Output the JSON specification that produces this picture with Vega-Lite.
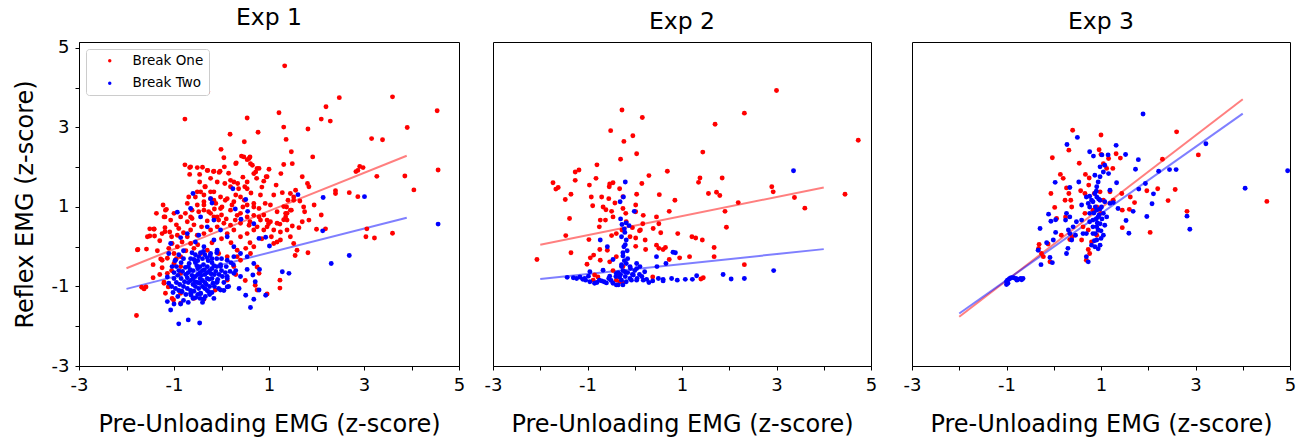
{
"$schema": "https://vega.github.io/schema/vega-lite/v6.json",
"padding": {"left": 12, "top": 5, "right": 5, "bottom": 0},
"background": "white",
"config": {
  "font": "DejaVu Sans",
  "view": {"stroke": "#000000", "strokeWidth": 1},
  "axis": {"grid": false, "domainColor": "#000000", "tickColor": "#000000", "labelColor": "#000000", "titleColor": "#000000", "labelFontSize": 18, "titleFontSize": 24, "titleFontWeight": "normal", "tickSize": 4, "labelPadding": 6, "domainWidth": 1, "tickWidth": 1, "labelFlush": false, "labelOverlap": false},
  "title": {"fontSize": 23.5, "fontWeight": "normal", "color": "#000000", "offset": 9}
},
"datasets": {
"lines": [
{"exp":1,"series":"Break One","x":-2,"y":-0.54},{"exp":1,"series":"Break One","x":3.9,"y":2.29},
{"exp":1,"series":"Break Two","x":-2,"y":-1.06},{"exp":1,"series":"Break Two","x":3.9,"y":0.73},
{"exp":2,"series":"Break One","x":-2,"y":0.05},{"exp":2,"series":"Break One","x":4,"y":1.49},
{"exp":2,"series":"Break Two","x":-2,"y":-0.81},{"exp":2,"series":"Break Two","x":4,"y":-0.06},
{"exp":3,"series":"Break One","x":-2,"y":-1.76},{"exp":3,"series":"Break One","x":4,"y":3.71},
{"exp":3,"series":"Break Two","x":-2,"y":-1.68},{"exp":3,"series":"Break Two","x":4,"y":3.35}
],
"points": [
{"exp":1,"series":"Break One","x":1.33,"y":4.55},{"exp":1,"series":"Break One","x":-0.29,"y":3.9},{"exp":1,"series":"Break One","x":-0.77,"y":3.21},{"exp":1,"series":"Break One","x":0.54,"y":3.24},{"exp":1,"series":"Break One","x":1.21,"y":3.37},{"exp":1,"series":"Break One","x":1.31,"y":3.01},{"exp":1,"series":"Break One","x":1.36,"y":2.7},{"exp":1,"series":"Break One","x":1.47,"y":2.39},{"exp":1,"series":"Break One","x":0.18,"y":2.83},{"exp":1,"series":"Break One","x":0.77,"y":2.88},{"exp":1,"series":"Break One","x":0.48,"y":2.64},{"exp":1,"series":"Break One","x":-0.01,"y":2.45},{"exp":1,"series":"Break One","x":2.2,"y":3.52},{"exp":1,"series":"Break One","x":2.48,"y":3.75},{"exp":1,"series":"Break One","x":2.1,"y":3.21},{"exp":1,"series":"Break One","x":2.29,"y":3.16},{"exp":1,"series":"Break One","x":1.82,"y":2.96},{"exp":1,"series":"Break One","x":1.92,"y":2.26},{"exp":1,"series":"Break One","x":3.6,"y":3.77},{"exp":1,"series":"Break One","x":4.54,"y":3.42},{"exp":1,"series":"Break One","x":3.91,"y":3.0},{"exp":1,"series":"Break One","x":3.16,"y":2.72},{"exp":1,"series":"Break One","x":3.39,"y":2.69},{"exp":1,"series":"Break One","x":4.56,"y":1.93},{"exp":1,"series":"Break One","x":3.86,"y":1.78},{"exp":1,"series":"Break One","x":4.05,"y":1.43},{"exp":1,"series":"Break One","x":3.27,"y":1.77},{"exp":1,"series":"Break One","x":2.83,"y":1.89},{"exp":1,"series":"Break One","x":2.91,"y":2.02},{"exp":1,"series":"Break One","x":2.98,"y":1.99},{"exp":1,"series":"Break One","x":2.87,"y":1.92},{"exp":1,"series":"Break One","x":2.69,"y":1.36},{"exp":1,"series":"Break One","x":2.4,"y":1.41},{"exp":1,"series":"Break One","x":2.4,"y":1.34},{"exp":1,"series":"Break One","x":2.87,"y":1.26},{"exp":1,"series":"Break One","x":3.06,"y":0.45},{"exp":1,"series":"Break One","x":3.04,"y":0.25},{"exp":1,"series":"Break One","x":3.22,"y":0.22},{"exp":1,"series":"Break One","x":3.6,"y":0.34},{"exp":1,"series":"Break One","x":2.19,"y":0.45},{"exp":1,"series":"Break One","x":1.55,"y":-0.22},{"exp":1,"series":"Break One","x":1.82,"y":-0.15},{"exp":1,"series":"Break One","x":1.23,"y":-0.84},{"exp":1,"series":"Break One","x":1.23,"y":-1.04},{"exp":1,"series":"Break One","x":0.96,"y":-1.19},{"exp":1,"series":"Break One","x":-1.79,"y":-1.73},{"exp":1,"series":"Break One","x":-1.77,"y":-0.08},{"exp":1,"series":"Break One","x":-1.58,"y":-0.06},{"exp":1,"series":"Break One","x":-1.51,"y":0.27},{"exp":1,"series":"Break One","x":-1.51,"y":0.45},{"exp":1,"series":"Break One","x":-1.42,"y":0.45},{"exp":1,"series":"Break One","x":-1.37,"y":0.84},{"exp":1,"series":"Break One","x":-1.23,"y":1.05},{"exp":1,"series":"Break One","x":-1.16,"y":0.94},{"exp":1,"series":"Break One","x":-1.19,"y":0.75},{"exp":1,"series":"Break One","x":-1.19,"y":0.48},{"exp":1,"series":"Break One","x":-1.19,"y":0.38},{"exp":1,"series":"Break One","x":-1.44,"y":-0.45},{"exp":1,"series":"Break One","x":-1.44,"y":-0.78},{"exp":1,"series":"Break One","x":-1.25,"y":-0.53},{"exp":1,"series":"Break One","x":-1.28,"y":-0.31},{"exp":1,"series":"Break One","x":-1.68,"y":-1.02},{"exp":1,"series":"Break One","x":-1.63,"y":-1.06},{"exp":1,"series":"Break One","x":-1.59,"y":-1.01},
{"exp":1,"series":"Break One","x":-0.77,"y":2.06},{"exp":1,"series":"Break One","x":-0.67,"y":1.99},{"exp":1,"series":"Break One","x":-0.51,"y":1.99},{"exp":1,"series":"Break One","x":-0.46,"y":1.82},{"exp":1,"series":"Break One","x":-0.67,"y":1.82},{"exp":1,"series":"Break One","x":-0.3,"y":1.92},{"exp":1,"series":"Break One","x":-0.17,"y":1.89},{"exp":1,"series":"Break One","x":-0.05,"y":1.87},{"exp":1,"series":"Break One","x":0.05,"y":2.24},{"exp":1,"series":"Break One","x":0.31,"y":2.11},{"exp":1,"series":"Break One","x":0.42,"y":2.28},{"exp":1,"series":"Break One","x":0.6,"y":2.26},{"exp":1,"series":"Break One","x":0.61,"y":2.09},{"exp":1,"series":"Break One","x":0.54,"y":2.19},{"exp":1,"series":"Break One","x":0.79,"y":1.97},{"exp":1,"series":"Break One","x":0.96,"y":1.76},{"exp":1,"series":"Break One","x":0.89,"y":1.65},{"exp":1,"series":"Break One","x":0.74,"y":1.72},{"exp":1,"series":"Break One","x":0.49,"y":1.51},{"exp":1,"series":"Break One","x":0.54,"y":1.46},{"exp":1,"series":"Break One","x":0.36,"y":1.46},{"exp":1,"series":"Break One","x":0.26,"y":1.63},{"exp":1,"series":"Break One","x":0.19,"y":1.67},{"exp":1,"series":"Break One","x":0.68,"y":1.84},{"exp":1,"series":"Break One","x":0.82,"y":1.3},{"exp":1,"series":"Break One","x":0.92,"y":1.09},{"exp":1,"series":"Break One","x":0.68,"y":1.0},{"exp":1,"series":"Break One","x":0.79,"y":0.75},{"exp":1,"series":"Break One","x":0.6,"y":0.63},{"exp":1,"series":"Break One","x":0.4,"y":0.84},{"exp":1,"series":"Break One","x":0.29,"y":0.67},{"exp":1,"series":"Break One","x":0.19,"y":0.92},{"exp":1,"series":"Break One","x":0.08,"y":1.17},{"exp":1,"series":"Break One","x":0.01,"y":1.0},{"exp":1,"series":"Break One","x":-0.16,"y":1.17},{"exp":1,"series":"Break One","x":-0.23,"y":1.38},{"exp":1,"series":"Break One","x":-0.34,"y":1.51},{"exp":1,"series":"Break One","x":-0.44,"y":1.38},{"exp":1,"series":"Break One","x":-0.55,"y":1.25},{"exp":1,"series":"Break One","x":-0.69,"y":1.25},{"exp":1,"series":"Break One","x":-0.72,"y":1.09},{"exp":1,"series":"Break One","x":-0.76,"y":0.84},{"exp":1,"series":"Break One","x":-0.62,"y":0.71},{"exp":1,"series":"Break One","x":-0.48,"y":0.88},{"exp":1,"series":"Break One","x":-0.37,"y":1.05},{"exp":1,"series":"Break One","x":-0.27,"y":0.88},{"exp":1,"series":"Break One","x":-0.16,"y":0.75},{"exp":1,"series":"Break One","x":-0.06,"y":0.67},{"exp":1,"series":"Break One","x":-0.09,"y":0.5},{"exp":1,"series":"Break One","x":-0.23,"y":0.42},{"exp":1,"series":"Break One","x":-0.37,"y":0.33},{"exp":1,"series":"Break One","x":-0.51,"y":0.29},{"exp":1,"series":"Break One","x":-0.65,"y":0.42},{"exp":1,"series":"Break One","x":-0.72,"y":0.25},{"exp":1,"series":"Break One","x":-0.83,"y":0.12},{"exp":1,"series":"Break One","x":-0.93,"y":0.0},{"exp":1,"series":"Break One","x":-1.04,"y":0.08},{"exp":1,"series":"Break One","x":-1.11,"y":-0.04},{"exp":1,"series":"Break One","x":-1.0,"y":-0.17},{"exp":1,"series":"Break One","x":-0.86,"y":-0.25},{"exp":1,"series":"Break One","x":0.12,"y":0.33},{"exp":1,"series":"Break One","x":0.26,"y":0.42},{"exp":1,"series":"Break One","x":0.4,"y":0.25},{"exp":1,"series":"Break One","x":0.54,"y":0.33},{"exp":1,"series":"Break One","x":0.68,"y":0.42},{"exp":1,"series":"Break One","x":0.89,"y":0.42},{"exp":1,"series":"Break One","x":0.99,"y":0.58},{"exp":1,"series":"Break One","x":1.1,"y":0.08},{"exp":1,"series":"Break One","x":1.17,"y":0.12},{"exp":1,"series":"Break One","x":1.24,"y":0.17},{"exp":1,"series":"Break One","x":1.23,"y":0.57},{"exp":1,"series":"Break One","x":1.38,"y":0.67},{"exp":1,"series":"Break One","x":1.35,"y":0.84},{"exp":1,"series":"Break One","x":1.4,"y":1.17},{"exp":1,"series":"Break One","x":1.45,"y":1.34},{"exp":1,"series":"Break One","x":1.56,"y":1.42},{"exp":1,"series":"Break One","x":1.52,"y":1.25},{"exp":1,"series":"Break One","x":1.37,"y":1.0},{"exp":1,"series":"Break One","x":1.28,"y":1.36},{"exp":1,"series":"Break One","x":1.25,"y":1.84},{"exp":1,"series":"Break One","x":1.31,"y":2.07},{"exp":1,"series":"Break One","x":1.49,"y":2.09},{"exp":1,"series":"Break One","x":1.7,"y":1.76},{"exp":1,"series":"Break One","x":1.81,"y":1.59},{"exp":1,"series":"Break One","x":1.84,"y":1.51},{"exp":1,"series":"Break One","x":1.73,"y":1.0},{"exp":1,"series":"Break One","x":1.75,"y":0.88},{"exp":1,"series":"Break One","x":1.84,"y":0.67},{"exp":1,"series":"Break One","x":1.7,"y":0.63},{"exp":1,"series":"Break One","x":1.63,"y":0.48},{"exp":1,"series":"Break One","x":1.49,"y":0.52},{"exp":1,"series":"Break One","x":1.47,"y":0.92},{"exp":1,"series":"Break One","x":2.0,"y":0.44},
{"exp":1,"series":"Break One","x":-1.14,"y":-0.29},{"exp":1,"series":"Break One","x":-1.0,"y":-0.42},{"exp":1,"series":"Break One","x":-0.86,"y":-0.5},{"exp":1,"series":"Break One","x":-1.14,"y":-0.67},{"exp":1,"series":"Break One","x":-1.21,"y":-0.92},{"exp":1,"series":"Break One","x":-1.18,"y":-1.17},{"exp":1,"series":"Break One","x":-1.04,"y":-1.3},{"exp":1,"series":"Break One","x":-0.86,"y":-1.17},{"exp":1,"series":"Break One","x":-0.58,"y":-1.3},{"exp":1,"series":"Break One","x":-0.37,"y":-1.32},{"exp":1,"series":"Break One","x":-0.13,"y":-1.09},{"exp":1,"series":"Break One","x":0.12,"y":-0.84},{"exp":1,"series":"Break One","x":0.26,"y":-0.5},{"exp":1,"series":"Break One","x":0.4,"y":-0.34},{"exp":1,"series":"Break One","x":0.61,"y":-0.17},{"exp":1,"series":"Break One","x":0.68,"y":0.0},{"exp":1,"series":"Break One","x":0.51,"y":-0.04},{"exp":1,"series":"Break One","x":0.33,"y":-0.09},{"exp":1,"series":"Break One","x":0.12,"y":-0.25},{"exp":1,"series":"Break One","x":-0.06,"y":-0.17},{"exp":1,"series":"Break One","x":-0.3,"y":-0.09},{"exp":1,"series":"Break One","x":-0.44,"y":-0.17},{"exp":1,"series":"Break One","x":-0.58,"y":-0.04},{"exp":1,"series":"Break One","x":-0.65,"y":0.08},{"exp":1,"series":"Break One","x":-0.86,"y":-0.67},{"exp":1,"series":"Break One","x":0.71,"y":-0.97},{"exp":1,"series":"Break One","x":0.75,"y":-1.09},
{"exp":1,"series":"Break One","x":-0.65,"y":2.01},{"exp":1,"series":"Break One","x":-0.29,"y":1.92},{"exp":1,"series":"Break One","x":-0.16,"y":1.9},{"exp":1,"series":"Break One","x":-0.03,"y":1.9},{"exp":1,"series":"Break One","x":0.06,"y":2.01},{"exp":1,"series":"Break One","x":0.3,"y":2.09},{"exp":1,"series":"Break One","x":0.47,"y":2.26},{"exp":1,"series":"Break One","x":0.58,"y":2.22},{"exp":1,"series":"Break One","x":0.65,"y":2.05},{"exp":1,"series":"Break One","x":0.75,"y":1.97},{"exp":1,"series":"Break One","x":0.72,"y":1.88},{"exp":1,"series":"Break One","x":0.94,"y":1.76},{"exp":1,"series":"Break One","x":0.54,"y":1.63},{"exp":1,"series":"Break One","x":0.34,"y":1.59},{"exp":1,"series":"Break One","x":0.19,"y":1.51},{"exp":1,"series":"Break One","x":0.07,"y":1.59},{"exp":1,"series":"Break One","x":-0.09,"y":1.63},{"exp":1,"series":"Break One","x":-0.23,"y":1.72},{"exp":1,"series":"Break One","x":-0.46,"y":1.63},{"exp":1,"series":"Break One","x":-0.35,"y":1.51},{"exp":1,"series":"Break One","x":-0.51,"y":1.38},{"exp":1,"series":"Break One","x":-0.37,"y":1.3},{"exp":1,"series":"Break One","x":-0.16,"y":1.38},{"exp":1,"series":"Break One","x":-0.02,"y":1.25},{"exp":1,"series":"Break One","x":0.12,"y":1.21},{"exp":1,"series":"Break One","x":0.26,"y":1.13},{"exp":1,"series":"Break One","x":0.4,"y":1.25},{"exp":1,"series":"Break One","x":0.48,"y":1.17},{"exp":1,"series":"Break One","x":0.54,"y":1.05},{"exp":1,"series":"Break One","x":0.68,"y":1.09},{"exp":1,"series":"Break One","x":0.79,"y":0.96},{"exp":1,"series":"Break One","x":1.03,"y":1.05},{"exp":1,"series":"Break One","x":0.89,"y":0.8},{"exp":1,"series":"Break One","x":1.03,"y":0.63},{"exp":1,"series":"Break One","x":1.17,"y":0.59},{"exp":1,"series":"Break One","x":1.31,"y":0.68},{"exp":1,"series":"Break One","x":1.38,"y":0.84},{"exp":1,"series":"Break One","x":1.45,"y":0.92},{"exp":1,"series":"Break One","x":1.52,"y":1.17},{"exp":1,"series":"Break One","x":1.31,"y":1.01},{"exp":1,"series":"Break One","x":1.17,"y":0.88},{"exp":1,"series":"Break One","x":-1.18,"y":0.92},{"exp":1,"series":"Break One","x":-1.21,"y":0.75},{"exp":1,"series":"Break One","x":-1.07,"y":0.67},{"exp":1,"series":"Break One","x":-0.9,"y":0.46},{"exp":1,"series":"Break One","x":-0.72,"y":0.63},{"exp":1,"series":"Break One","x":-0.65,"y":0.75},{"exp":1,"series":"Break One","x":-0.86,"y":0.75},{"exp":1,"series":"Break One","x":-1.0,"y":0.84},{"exp":1,"series":"Break One","x":-1.42,"y":0.44},{"exp":1,"series":"Break One","x":-1.56,"y":0.25},{"exp":1,"series":"Break One","x":-1.76,"y":-0.07},{"exp":1,"series":"Break One","x":-1.41,"y":0.27},{"exp":1,"series":"Break One","x":-1.25,"y":0.33},{"exp":1,"series":"Break One","x":-1.09,"y":0.37},{"exp":1,"series":"Break One","x":-0.93,"y":0.29},{"exp":1,"series":"Break One","x":-0.51,"y":1.05},{"exp":1,"series":"Break One","x":-0.37,"y":1.13},{"exp":1,"series":"Break One","x":-0.23,"y":1.21},{"exp":1,"series":"Break One","x":-0.12,"y":1.09},{"exp":1,"series":"Break One","x":-0.02,"y":0.96},{"exp":1,"series":"Break One","x":0.33,"y":0.79},{"exp":1,"series":"Break One","x":0.54,"y":0.75},{"exp":1,"series":"Break One","x":0.68,"y":0.79},{"exp":1,"series":"Break One","x":0.82,"y":0.67},{"exp":1,"series":"Break One","x":0.96,"y":0.67},{"exp":1,"series":"Break One","x":1.35,"y":0.75},{"exp":1,"series":"Break One","x":1.38,"y":0.42},{"exp":1,"series":"Break One","x":1.45,"y":0.25},{"exp":1,"series":"Break One","x":1.52,"y":0.08},{"exp":1,"series":"Break One","x":1.59,"y":-0.09},{"exp":1,"series":"Break One","x":1.24,"y":0.37},{"exp":1,"series":"Break One","x":1.1,"y":0.42},{"exp":1,"series":"Break One","x":0.96,"y":0.5},{"exp":1,"series":"Break One","x":0.75,"y":0.5},{"exp":1,"series":"Break One","x":0.58,"y":0.54},{"exp":1,"series":"Break One","x":0.4,"y":0.59},{"exp":1,"series":"Break One","x":0.19,"y":0.54},{"exp":1,"series":"Break One","x":0.05,"y":0.59},{"exp":1,"series":"Break One","x":-0.09,"y":0.75},{"exp":1,"series":"Break One","x":-0.23,"y":0.84},{"exp":1,"series":"Break One","x":-0.37,"y":0.92},{"exp":1,"series":"Break One","x":-0.62,"y":0.92},{"exp":1,"series":"Break One","x":-1.25,"y":-0.34},{"exp":1,"series":"Break One","x":-1.21,"y":-0.89},{"exp":1,"series":"Break One","x":-1.12,"y":-1.01},{"exp":1,"series":"Break One","x":-1.01,"y":-1.34},{"exp":1,"series":"Break One","x":-0.86,"y":-1.42},{"exp":1,"series":"Break One","x":0.33,"y":-0.25},{"exp":1,"series":"Break One","x":0.75,"y":-0.51},{"exp":1,"series":"Break One","x":0.79,"y":-0.67},
{"exp":1,"series":"Break One","x":-0.95,"y":0.55},{"exp":1,"series":"Break One","x":-0.8,"y":0.35},{"exp":1,"series":"Break One","x":-0.58,"y":0.55},{"exp":1,"series":"Break One","x":-0.42,"y":0.5},{"exp":1,"series":"Break One","x":-0.3,"y":0.65},{"exp":1,"series":"Break One","x":-0.15,"y":0.95},{"exp":1,"series":"Break One","x":0.0,"y":0.8},{"exp":1,"series":"Break One","x":0.1,"y":0.7},{"exp":1,"series":"Break One","x":0.22,"y":1.05},{"exp":1,"series":"Break One","x":0.3,"y":1.3},{"exp":1,"series":"Break One","x":0.45,"y":1.0},{"exp":1,"series":"Break One","x":0.62,"y":1.35},{"exp":1,"series":"Break One","x":0.85,"y":1.5},{"exp":1,"series":"Break One","x":1.1,"y":1.3},{"exp":1,"series":"Break One","x":1.05,"y":0.25},{"exp":1,"series":"Break One","x":0.85,"y":0.2},{"exp":1,"series":"Break One","x":0.6,"y":0.1},{"exp":1,"series":"Break One","x":0.2,"y":0.1},{"exp":1,"series":"Break One","x":0.0,"y":0.2},{"exp":1,"series":"Break One","x":-0.2,"y":0.1},{"exp":1,"series":"Break One","x":-0.5,"y":0.05},{"exp":1,"series":"Break One","x":-0.75,"y":-0.1},{"exp":1,"series":"Break One","x":-0.95,"y":-0.3},{"exp":1,"series":"Break One","x":-1.05,"y":-0.6},{"exp":1,"series":"Break One","x":-1.3,"y":-0.7},{"exp":1,"series":"Break One","x":-1.35,"y":-0.1},{"exp":1,"series":"Break One","x":-1.3,"y":0.15},{"exp":1,"series":"Break One","x":-1.05,"y":0.25},{"exp":1,"series":"Break One","x":0.45,"y":1.75},{"exp":1,"series":"Break One","x":0.15,"y":1.85},{"exp":1,"series":"Break One","x":-0.4,"y":2.0},{"exp":1,"series":"Break One","x":1.0,"y":1.95},{"exp":1,"series":"Break One","x":1.15,"y":1.55},{"exp":1,"series":"Break One","x":1.65,"y":1.15},{"exp":1,"series":"Break One","x":1.95,"y":1.05},{"exp":1,"series":"Break One","x":2.1,"y":0.8},{"exp":1,"series":"Break One","x":0.3,"y":-0.7},{"exp":1,"series":"Break One","x":0.5,"y":-0.85},
{"exp":1,"series":"Break Two","x":-0.9,"y":-1.94},{"exp":1,"series":"Break Two","x":-0.7,"y":-1.84},{"exp":1,"series":"Break Two","x":-0.46,"y":-1.92},{"exp":1,"series":"Break Two","x":-1.07,"y":-1.59},{"exp":1,"series":"Break Two","x":-1.14,"y":-1.38},{"exp":1,"series":"Break Two","x":-0.86,"y":-1.44},{"exp":1,"series":"Break Two","x":-1.0,"y":-1.44},{"exp":1,"series":"Break Two","x":0.61,"y":-1.53},{"exp":1,"series":"Break Two","x":0.68,"y":-1.32},{"exp":1,"series":"Break Two","x":0.93,"y":-1.22},{"exp":1,"series":"Break Two","x":0.51,"y":-1.22},{"exp":1,"series":"Break Two","x":0.79,"y":-1.09},{"exp":1,"series":"Break Two","x":0.71,"y":-0.88},{"exp":1,"series":"Break Two","x":0.66,"y":-0.71},{"exp":1,"series":"Break Two","x":0.8,"y":-0.57},{"exp":1,"series":"Break Two","x":0.68,"y":-0.42},{"exp":1,"series":"Break Two","x":0.54,"y":-0.57},{"exp":1,"series":"Break Two","x":0.37,"y":-1.05},{"exp":1,"series":"Break Two","x":0.12,"y":-1.01},{"exp":1,"series":"Break Two","x":-0.16,"y":-1.3},{"exp":1,"series":"Break Two","x":-0.38,"y":-1.32},{"exp":1,"series":"Break Two","x":1.28,"y":-0.63},{"exp":1,"series":"Break Two","x":1.42,"y":-0.67},{"exp":1,"series":"Break Two","x":2.31,"y":-0.42},{"exp":1,"series":"Break Two","x":2.69,"y":-0.22},{"exp":1,"series":"Break Two","x":2.13,"y":0.4},{"exp":1,"series":"Break Two","x":2.14,"y":1.24},{"exp":1,"series":"Break Two","x":3.01,"y":1.26},{"exp":1,"series":"Break Two","x":1.61,"y":1.31},{"exp":1,"series":"Break Two","x":4.56,"y":0.57},{"exp":1,"series":"Break Two","x":0.93,"y":0.24},{"exp":1,"series":"Break Two","x":1.01,"y":0.02},{"exp":1,"series":"Break Two","x":0.79,"y":0.21},{"exp":1,"series":"Break Two","x":0.68,"y":0.58},{"exp":1,"series":"Break Two","x":0.55,"y":0.89},{"exp":1,"series":"Break Two","x":0.51,"y":1.19},{"exp":1,"series":"Break Two","x":0.41,"y":0.69},{"exp":1,"series":"Break Two","x":0.29,"y":0.95},{"exp":1,"series":"Break Two","x":0.24,"y":1.46},{"exp":1,"series":"Break Two","x":-0.23,"y":1.21},{"exp":1,"series":"Break Two","x":-0.2,"y":1.1},{"exp":1,"series":"Break Two","x":-0.6,"y":1.34},{"exp":1,"series":"Break Two","x":-0.65,"y":0.96},{"exp":1,"series":"Break Two","x":-0.93,"y":0.87},{"exp":1,"series":"Break Two","x":-0.44,"y":0.75},{"exp":1,"series":"Break Two","x":-0.3,"y":0.5},{"exp":1,"series":"Break Two","x":-0.16,"y":0.67},{"exp":1,"series":"Break Two","x":-0.02,"y":0.42},{"exp":1,"series":"Break Two","x":0.12,"y":0.25},{"exp":1,"series":"Break Two","x":0.26,"y":0.0},{"exp":1,"series":"Break Two","x":0.4,"y":-0.17},{"exp":1,"series":"Break Two","x":0.54,"y":-0.25},{"exp":1,"series":"Break Two","x":0.26,"y":-0.25},{"exp":1,"series":"Break Two","x":0.12,"y":-0.34},{"exp":1,"series":"Break Two","x":-0.02,"y":-0.5},{"exp":1,"series":"Break Two","x":0.26,"y":-0.67},{"exp":1,"series":"Break Two","x":0.4,"y":-0.75},{"exp":1,"series":"Break Two","x":0.12,"y":-0.75},{"exp":1,"series":"Break Two","x":-0.09,"y":-0.88},{"exp":1,"series":"Break Two","x":-0.02,"y":-1.09},{"exp":1,"series":"Break Two","x":-0.27,"y":-1.13},{"exp":1,"series":"Break Two","x":-0.44,"y":-1.17},{"exp":1,"series":"Break Two","x":-0.65,"y":-1.17},{"exp":1,"series":"Break Two","x":-0.83,"y":-1.13},{"exp":1,"series":"Break Two","x":-0.97,"y":-1.05},{"exp":1,"series":"Break Two","x":-1.11,"y":-0.92},{"exp":1,"series":"Break Two","x":-1.14,"y":-0.76},{"exp":1,"series":"Break Two","x":-1.04,"y":-0.5},{"exp":1,"series":"Break Two","x":-0.97,"y":-0.34},{"exp":1,"series":"Break Two","x":-1.11,"y":-0.17},{"exp":1,"series":"Break Two","x":-1.07,"y":0.08},{"exp":1,"series":"Break Two","x":-0.86,"y":0.23},{"exp":1,"series":"Break Two","x":-0.72,"y":0.33},{"exp":1,"series":"Break Two","x":-0.48,"y":0.29},{"exp":1,"series":"Break Two","x":-0.55,"y":0.12},{"exp":1,"series":"Break Two","x":-0.37,"y":0.0},{"exp":1,"series":"Break Two","x":-0.23,"y":-0.17},{"exp":1,"series":"Break Two","x":-0.16,"y":0.17},{"exp":1,"series":"Break Two","x":-0.09,"y":-0.09},
{"exp":1,"series":"Break Two","x":-0.9,"y":-0.6},{"exp":1,"series":"Break Two","x":-0.85,"y":-0.8},{"exp":1,"series":"Break Two","x":-0.8,"y":-1.0},{"exp":1,"series":"Break Two","x":-0.75,"y":-0.7},{"exp":1,"series":"Break Two","x":-0.7,"y":-0.9},{"exp":1,"series":"Break Two","x":-0.7,"y":-0.5},{"exp":1,"series":"Break Two","x":-0.65,"y":-1.1},{"exp":1,"series":"Break Two","x":-0.6,"y":-0.8},{"exp":1,"series":"Break Two","x":-0.6,"y":-0.6},{"exp":1,"series":"Break Two","x":-0.55,"y":-1.0},{"exp":1,"series":"Break Two","x":-0.55,"y":-0.4},{"exp":1,"series":"Break Two","x":-0.5,"y":-0.7},{"exp":1,"series":"Break Two","x":-0.5,"y":-0.9},{"exp":1,"series":"Break Two","x":-0.5,"y":-1.2},{"exp":1,"series":"Break Two","x":-0.45,"y":-0.5},{"exp":1,"series":"Break Two","x":-0.45,"y":-0.8},{"exp":1,"series":"Break Two","x":-0.4,"y":-1.0},{"exp":1,"series":"Break Two","x":-0.4,"y":-0.6},{"exp":1,"series":"Break Two","x":-0.4,"y":-0.3},{"exp":1,"series":"Break Two","x":-0.35,"y":-0.9},{"exp":1,"series":"Break Two","x":-0.35,"y":-0.7},{"exp":1,"series":"Break Two","x":-0.3,"y":-1.1},{"exp":1,"series":"Break Two","x":-0.3,"y":-0.5},{"exp":1,"series":"Break Two","x":-0.3,"y":-0.8},{"exp":1,"series":"Break Two","x":-0.25,"y":-0.6},{"exp":1,"series":"Break Two","x":-0.25,"y":-1.0},{"exp":1,"series":"Break Two","x":-0.2,"y":-0.4},{"exp":1,"series":"Break Two","x":-0.2,"y":-0.8},{"exp":1,"series":"Break Two","x":-0.15,"y":-0.7},{"exp":1,"series":"Break Two","x":-0.15,"y":-1.0},{"exp":1,"series":"Break Two","x":-0.1,"y":-0.5},{"exp":1,"series":"Break Two","x":-0.1,"y":-0.9},{"exp":1,"series":"Break Two","x":-0.05,"y":-0.7},{"exp":1,"series":"Break Two","x":0.0,"y":-0.6},{"exp":1,"series":"Break Two","x":0.05,"y":-0.9},{"exp":1,"series":"Break Two","x":0.1,"y":-0.5},{"exp":1,"series":"Break Two","x":-0.95,"y":-0.9},{"exp":1,"series":"Break Two","x":-0.9,"y":-1.1},{"exp":1,"series":"Break Two","x":-0.85,"y":-0.4},{"exp":1,"series":"Break Two","x":-0.8,"y":-0.3},{"exp":1,"series":"Break Two","x":-0.75,"y":-1.2},{"exp":1,"series":"Break Two","x":-0.65,"y":-0.3},{"exp":1,"series":"Break Two","x":-0.6,"y":-1.3},{"exp":1,"series":"Break Two","x":-0.55,"y":-0.2},{"exp":1,"series":"Break Two","x":-0.45,"y":-1.3},{"exp":1,"series":"Break Two","x":-0.35,"y":-0.2},{"exp":1,"series":"Break Two","x":-0.25,"y":-1.2},{"exp":1,"series":"Break Two","x":-0.5,"y":-0.55},{"exp":1,"series":"Break Two","x":-0.45,"y":-0.65},{"exp":1,"series":"Break Two","x":-0.55,"y":-0.75},{"exp":1,"series":"Break Two","x":-0.4,"y":-0.85},{"exp":1,"series":"Break Two","x":-0.6,"y":-0.95},{"exp":1,"series":"Break Two","x":-0.3,"y":-0.65},{"exp":1,"series":"Break Two","x":-0.5,"y":-0.35},{"exp":1,"series":"Break Two","x":-0.7,"y":-0.65},{"exp":1,"series":"Break Two","x":-0.65,"y":-0.85},{"exp":1,"series":"Break Two","x":-0.35,"y":-1.05},{"exp":1,"series":"Break Two","x":-0.2,"y":-0.55},{"exp":1,"series":"Break Two","x":-0.1,"y":-0.3},{"exp":1,"series":"Break Two","x":0.2,"y":-0.4},{"exp":1,"series":"Break Two","x":0.3,"y":-0.6},{"exp":1,"series":"Break Two","x":0.15,"y":-1.0},{"exp":1,"series":"Break Two","x":-1.0,"y":-0.8},{"exp":1,"series":"Break Two","x":-1.05,"y":-1.0},{"exp":1,"series":"Break Two","x":-0.95,"y":-0.5},
{"exp":1,"series":"Break Two","x":-0.92,"y":-0.72},{"exp":1,"series":"Break Two","x":-0.88,"y":-0.95},{"exp":1,"series":"Break Two","x":-0.82,"y":-0.62},{"exp":1,"series":"Break Two","x":-0.78,"y":-0.88},{"exp":1,"series":"Break Two","x":-0.72,"y":-1.05},{"exp":1,"series":"Break Two","x":-0.68,"y":-0.42},{"exp":1,"series":"Break Two","x":-0.62,"y":-0.72},{"exp":1,"series":"Break Two","x":-0.58,"y":-1.12},{"exp":1,"series":"Break Two","x":-0.52,"y":-0.48},{"exp":1,"series":"Break Two","x":-0.48,"y":-1.05},{"exp":1,"series":"Break Two","x":-0.42,"y":-0.72},{"exp":1,"series":"Break Two","x":-0.38,"y":-0.45},{"exp":1,"series":"Break Two","x":-0.32,"y":-0.95},{"exp":1,"series":"Break Two","x":-0.28,"y":-0.35},{"exp":1,"series":"Break Two","x":-0.22,"y":-0.68},{"exp":1,"series":"Break Two","x":-0.18,"y":-0.92},{"exp":1,"series":"Break Two","x":-0.12,"y":-0.62},{"exp":1,"series":"Break Two","x":-0.08,"y":-0.82},{"exp":1,"series":"Break Two","x":-0.02,"y":-0.45},{"exp":1,"series":"Break Two","x":0.02,"y":-0.75},{"exp":1,"series":"Break Two","x":0.08,"y":-0.65},{"exp":1,"series":"Break Two","x":-0.72,"y":-0.78},{"exp":1,"series":"Break Two","x":-0.66,"y":-0.58},{"exp":1,"series":"Break Two","x":-0.56,"y":-0.88},{"exp":1,"series":"Break Two","x":-0.46,"y":-0.92},{"exp":1,"series":"Break Two","x":-0.36,"y":-0.58},{"exp":1,"series":"Break Two","x":-0.26,"y":-0.82},{"exp":1,"series":"Break Two","x":-0.16,"y":-0.48},{"exp":1,"series":"Break Two","x":-0.06,"y":-1.05},{"exp":1,"series":"Break Two","x":-0.76,"y":-0.52},{"exp":1,"series":"Break Two","x":-0.84,"y":-1.12},{"exp":1,"series":"Break Two","x":-0.64,"y":-1.22},{"exp":1,"series":"Break Two","x":-0.54,"y":-1.28},{"exp":1,"series":"Break Two","x":-0.44,"y":-1.18},{"exp":1,"series":"Break Two","x":-0.34,"y":-1.25},{"exp":1,"series":"Break Two","x":-0.24,"y":-0.22},{"exp":1,"series":"Break Two","x":-0.44,"y":-0.15},{"exp":1,"series":"Break Two","x":-0.62,"y":-0.15},{"exp":1,"series":"Break Two","x":-0.58,"y":-0.32},{"exp":1,"series":"Break Two","x":-0.48,"y":-0.25},{"exp":1,"series":"Break Two","x":-0.38,"y":-0.12},{"exp":1,"series":"Break Two","x":-0.3,"y":-0.28},{"exp":1,"series":"Break Two","x":-0.2,"y":-0.3},{"exp":1,"series":"Break Two","x":-0.1,"y":-0.15},{"exp":1,"series":"Break Two","x":0.0,"y":-0.3},{"exp":1,"series":"Break Two","x":0.12,"y":-0.8},{"exp":1,"series":"Break Two","x":0.18,"y":-0.62},{"exp":1,"series":"Break Two","x":0.25,"y":-0.45},{"exp":1,"series":"Break Two","x":-1.0,"y":-0.65},{"exp":1,"series":"Break Two","x":-1.02,"y":-1.15},{"exp":1,"series":"Break Two","x":-0.92,"y":-1.25},{"exp":1,"series":"Break Two","x":-0.8,"y":-1.35},{"exp":1,"series":"Break Two","x":-0.7,"y":-1.4},{"exp":1,"series":"Break Two","x":-0.4,"y":-1.4},{"exp":1,"series":"Break Two","x":-0.2,"y":-1.15},{"exp":1,"series":"Break Two","x":0.05,"y":-1.1},{"exp":1,"series":"Break Two","x":-0.98,"y":-0.35},{"exp":1,"series":"Break Two","x":-0.9,"y":-0.2},{"exp":1,"series":"Break Two","x":-0.8,"y":-0.1},
{"exp":2,"series":"Break One","x":3.0,"y":3.93},{"exp":2,"series":"Break One","x":-0.27,"y":3.44},{"exp":2,"series":"Break One","x":0.16,"y":3.25},{"exp":2,"series":"Break One","x":2.32,"y":3.36},{"exp":2,"series":"Break One","x":1.7,"y":3.08},{"exp":2,"series":"Break One","x":4.73,"y":2.68},{"exp":2,"series":"Break One","x":-0.51,"y":2.92},{"exp":2,"series":"Break One","x":-0.04,"y":2.79},{"exp":2,"series":"Break One","x":-0.23,"y":2.65},{"exp":2,"series":"Break One","x":0.04,"y":2.34},{"exp":2,"series":"Break One","x":1.44,"y":2.38},{"exp":2,"series":"Break One","x":-0.3,"y":2.2},{"exp":2,"series":"Break One","x":-0.8,"y":2.06},{"exp":2,"series":"Break One","x":0.3,"y":1.79},{"exp":2,"series":"Break One","x":0.69,"y":1.9},{"exp":2,"series":"Break One","x":-1.73,"y":1.61},{"exp":2,"series":"Break One","x":-1.67,"y":1.45},{"exp":2,"series":"Break One","x":-1.62,"y":1.49},{"exp":2,"series":"Break One","x":-1.26,"y":1.88},{"exp":2,"series":"Break One","x":-1.18,"y":1.93},{"exp":2,"series":"Break One","x":-1.26,"y":1.67},{"exp":2,"series":"Break One","x":-1.35,"y":1.32},{"exp":2,"series":"Break One","x":-1.47,"y":1.19},{"exp":2,"series":"Break One","x":-1.38,"y":0.71},{"exp":2,"series":"Break One","x":-1.46,"y":0.28},{"exp":2,"series":"Break One","x":-1.35,"y":-0.15},{"exp":2,"series":"Break One","x":-2.07,"y":-0.32},{"exp":2,"series":"Break One","x":-0.96,"y":1.55},{"exp":2,"series":"Break One","x":-0.82,"y":1.72},{"exp":2,"series":"Break One","x":-0.92,"y":1.25},{"exp":2,"series":"Break One","x":-0.89,"y":1.03},{"exp":2,"series":"Break One","x":-0.7,"y":1.25},{"exp":2,"series":"Break One","x":-0.67,"y":1.0},{"exp":2,"series":"Break One","x":-0.61,"y":0.93},{"exp":2,"series":"Break One","x":-0.55,"y":1.21},{"exp":2,"series":"Break One","x":-0.53,"y":1.58},{"exp":2,"series":"Break One","x":-0.46,"y":1.61},{"exp":2,"series":"Break One","x":-0.54,"y":1.51},{"exp":2,"series":"Break One","x":-0.32,"y":1.46},{"exp":2,"series":"Break One","x":-0.25,"y":1.26},{"exp":2,"series":"Break One","x":-0.42,"y":1.1},{"exp":2,"series":"Break One","x":-0.49,"y":0.89},{"exp":2,"series":"Break One","x":-0.73,"y":0.67},{"exp":2,"series":"Break One","x":-0.62,"y":0.67},{"exp":2,"series":"Break One","x":-0.46,"y":0.75},{"exp":2,"series":"Break One","x":-0.75,"y":0.5},{"exp":2,"series":"Break One","x":-0.25,"y":0.96},{"exp":2,"series":"Break One","x":-0.19,"y":0.84},{"exp":2,"series":"Break One","x":0.04,"y":1.32},{"exp":2,"series":"Break One","x":0.15,"y":1.59},{"exp":2,"series":"Break One","x":0.02,"y":1.05},{"exp":2,"series":"Break One","x":0.02,"y":0.88},{"exp":2,"series":"Break One","x":0.18,"y":0.79},{"exp":2,"series":"Break One","x":0.17,"y":0.58},{"exp":2,"series":"Break One","x":-0.05,"y":0.48},{"exp":2,"series":"Break One","x":-0.18,"y":0.63},{"exp":2,"series":"Break One","x":-0.27,"y":0.42},{"exp":2,"series":"Break One","x":0.1,"y":0.4},{"exp":2,"series":"Break One","x":0.12,"y":0.42},{"exp":2,"series":"Break One","x":-0.1,"y":0.25},{"exp":2,"series":"Break One","x":0.02,"y":0.22},{"exp":2,"series":"Break One","x":0.22,"y":0.17},{"exp":2,"series":"Break One","x":0.23,"y":-0.07},{"exp":2,"series":"Break One","x":0.02,"y":0.01},{"exp":2,"series":"Break One","x":-0.39,"y":0.33},{"exp":2,"series":"Break One","x":-0.49,"y":0.28},{"exp":2,"series":"Break One","x":-0.58,"y":-0.09},{"exp":2,"series":"Break One","x":-0.74,"y":-0.07},{"exp":2,"series":"Break One","x":-0.97,"y":0.18},{"exp":2,"series":"Break One","x":-0.87,"y":-0.21},{"exp":2,"series":"Break One","x":-0.94,"y":-0.28},{"exp":2,"series":"Break One","x":-1.01,"y":-0.44},{"exp":2,"series":"Break One","x":-0.73,"y":-0.34},{"exp":2,"series":"Break One","x":-0.53,"y":-0.38},{"exp":2,"series":"Break One","x":-0.39,"y":-0.25},{"exp":2,"series":"Break One","x":-0.78,"y":-0.76},{"exp":2,"series":"Break One","x":-0.85,"y":-0.71},{"exp":2,"series":"Break One","x":-0.32,"y":-0.88},{"exp":2,"series":"Break One","x":-0.46,"y":-0.6},{"exp":2,"series":"Break One","x":-0.25,"y":-0.5},{"exp":2,"series":"Break One","x":0.46,"y":0.75},{"exp":2,"series":"Break One","x":0.52,"y":1.31},{"exp":2,"series":"Break One","x":0.55,"y":0.35},{"exp":2,"series":"Break One","x":0.39,"y":0.46},{"exp":2,"series":"Break One","x":0.51,"y":0.58},{"exp":2,"series":"Break One","x":0.73,"y":0.89},{"exp":2,"series":"Break One","x":0.85,"y":1.17},{"exp":2,"series":"Break One","x":0.46,"y":0.04},{"exp":2,"series":"Break One","x":0.51,"y":-0.04},{"exp":2,"series":"Break One","x":0.6,"y":-0.07},{"exp":2,"series":"Break One","x":0.65,"y":-0.02},{"exp":2,"series":"Break One","x":0.73,"y":-0.32},{"exp":2,"series":"Break One","x":0.91,"y":0.33},{"exp":2,"series":"Break One","x":0.95,"y":-0.28},{"exp":2,"series":"Break One","x":1.16,"y":-0.25},{"exp":2,"series":"Break One","x":1.21,"y":0.25},{"exp":2,"series":"Break One","x":1.29,"y":0.22},{"exp":2,"series":"Break One","x":1.43,"y":0.17},{"exp":2,"series":"Break One","x":1.35,"y":1.62},{"exp":2,"series":"Break One","x":1.38,"y":1.73},{"exp":2,"series":"Break One","x":1.56,"y":1.34},{"exp":2,"series":"Break One","x":1.73,"y":1.37},{"exp":2,"series":"Break One","x":1.8,"y":1.29},{"exp":2,"series":"Break One","x":1.85,"y":1.73},{"exp":2,"series":"Break One","x":1.91,"y":0.89},{"exp":2,"series":"Break One","x":1.94,"y":0.49},{"exp":2,"series":"Break One","x":1.68,"y":-0.02},{"exp":2,"series":"Break One","x":1.68,"y":-0.25},{"exp":2,"series":"Break One","x":2.19,"y":1.11},{"exp":2,"series":"Break One","x":2.32,"y":-0.45},{"exp":2,"series":"Break One","x":2.9,"y":1.51},{"exp":2,"series":"Break One","x":2.93,"y":1.38},{"exp":2,"series":"Break One","x":3.38,"y":1.24},{"exp":2,"series":"Break One","x":3.6,"y":0.97},{"exp":2,"series":"Break One","x":4.45,"y":1.32},{"exp":2,"series":"Break One","x":1.4,"y":-0.81},{"exp":2,"series":"Break One","x":1.45,"y":-0.78},{"exp":2,"series":"Break One","x":0.38,"y":-0.76},{"exp":2,"series":"Break One","x":-0.25,"y":-0.92},{"exp":2,"series":"Break One","x":-0.39,"y":-0.84},{"exp":2,"series":"Break One","x":-0.88,"y":-0.84},
{"exp":2,"series":"Break Two","x":3.36,"y":1.91},{"exp":2,"series":"Break Two","x":2.94,"y":-0.6},{"exp":2,"series":"Break Two","x":-0.2,"y":1.63},{"exp":2,"series":"Break Two","x":-0.24,"y":1.25},{"exp":2,"series":"Break Two","x":-0.31,"y":1.13},{"exp":2,"series":"Break Two","x":-0.01,"y":0.89},{"exp":2,"series":"Break Two","x":-0.27,"y":0.56},{"exp":2,"series":"Break Two","x":-0.12,"y":0.53},{"exp":2,"series":"Break Two","x":-0.21,"y":0.36},{"exp":2,"series":"Break Two","x":-0.18,"y":0.17},{"exp":2,"series":"Break Two","x":-0.23,"y":0.0},{"exp":2,"series":"Break Two","x":-0.16,"y":-0.1},{"exp":2,"series":"Break Two","x":-0.25,"y":-0.23},{"exp":2,"series":"Break Two","x":-0.73,"y":0.17},{"exp":2,"series":"Break Two","x":-0.58,"y":0.0},{"exp":2,"series":"Break Two","x":-0.46,"y":-0.32},{"exp":2,"series":"Break Two","x":-0.67,"y":-0.59},{"exp":2,"series":"Break Two","x":0.46,"y":-0.25},{"exp":2,"series":"Break Two","x":0.47,"y":-0.5},{"exp":2,"series":"Break Two","x":0.66,"y":-0.42},{"exp":2,"series":"Break Two","x":0.81,"y":-0.14},{"exp":2,"series":"Break Two","x":0.86,"y":-0.15},{"exp":2,"series":"Break Two","x":0.04,"y":-0.42},{"exp":2,"series":"Break Two","x":0.11,"y":-0.5},{"exp":2,"series":"Break Two","x":0.21,"y":-0.63},{"exp":2,"series":"Break Two","x":-1.43,"y":-0.77},{"exp":2,"series":"Break Two","x":-1.23,"y":-0.8},{"exp":2,"series":"Break Two","x":-1.16,"y":-0.76},{"exp":2,"series":"Break Two","x":-1.04,"y":-0.84},{"exp":2,"series":"Break Two","x":-0.95,"y":-0.88},{"exp":2,"series":"Break Two","x":-0.85,"y":-0.92},{"exp":2,"series":"Break Two","x":-0.7,"y":-0.86},{"exp":2,"series":"Break Two","x":-0.6,"y":-0.91},{"exp":2,"series":"Break Two","x":-0.46,"y":-0.92},{"exp":2,"series":"Break Two","x":-0.35,"y":-0.96},{"exp":2,"series":"Break Two","x":-0.28,"y":-0.84},{"exp":2,"series":"Break Two","x":-0.18,"y":-0.88},{"exp":2,"series":"Break Two","x":-0.07,"y":-0.84},{"exp":2,"series":"Break Two","x":0.04,"y":-0.84},{"exp":2,"series":"Break Two","x":0.18,"y":-0.84},{"exp":2,"series":"Break Two","x":0.38,"y":-0.86},{"exp":2,"series":"Break Two","x":0.5,"y":-0.8},{"exp":2,"series":"Break Two","x":0.6,"y":-0.86},{"exp":2,"series":"Break Two","x":0.78,"y":-0.8},{"exp":2,"series":"Break Two","x":1.07,"y":-0.82},{"exp":2,"series":"Break Two","x":1.22,"y":-0.82},{"exp":2,"series":"Break Two","x":1.31,"y":-0.73},{"exp":2,"series":"Break Two","x":1.87,"y":-0.7},{"exp":2,"series":"Break Two","x":2.04,"y":-0.81},{"exp":2,"series":"Break Two","x":2.32,"y":-0.8},{"exp":2,"series":"Break Two","x":-0.95,"y":-0.63},{"exp":2,"series":"Break Two","x":-0.98,"y":-0.74},{"exp":2,"series":"Break Two","x":-0.39,"y":-0.67},{"exp":2,"series":"Break Two","x":-0.32,"y":-0.76},{"exp":2,"series":"Break Two","x":-0.21,"y":-0.63},{"exp":2,"series":"Break Two","x":-0.03,"y":-0.71},{"exp":2,"series":"Break Two","x":-0.28,"y":-0.5},{"exp":2,"series":"Break Two","x":-0.18,"y":-0.42},{"exp":2,"series":"Break Two","x":-0.39,"y":-0.96},{"exp":2,"series":"Break Two","x":-0.25,"y":-0.96},{"exp":2,"series":"Break Two","x":-1.06,"y":-0.8},{"exp":2,"series":"Break Two","x":0.04,"y":-0.55},{"exp":2,"series":"Break Two","x":-0.09,"y":-0.55},{"exp":2,"series":"Break Two","x":-0.53,"y":-0.74},{"exp":2,"series":"Break Two","x":-0.3,"y":-0.7},{"exp":2,"series":"Break Two","x":-0.25,"y":-0.6},{"exp":2,"series":"Break Two","x":-0.2,"y":-0.75},{"exp":2,"series":"Break Two","x":-0.15,"y":-0.65},{"exp":2,"series":"Break Two","x":-0.1,"y":-0.8},{"exp":2,"series":"Break Two","x":-0.05,"y":-0.7},{"exp":2,"series":"Break Two","x":0.0,"y":-0.6},{"exp":2,"series":"Break Two","x":0.1,"y":-0.7},{"exp":2,"series":"Break Two","x":-0.4,"y":-0.75},{"exp":2,"series":"Break Two","x":-0.35,"y":-0.65},{"exp":2,"series":"Break Two","x":-0.28,"y":-0.45},{"exp":2,"series":"Break Two","x":-0.22,"y":-0.35},{"exp":2,"series":"Break Two","x":-0.25,"y":-0.15},{"exp":2,"series":"Break Two","x":-0.2,"y":0.05},{"exp":2,"series":"Break Two","x":-0.28,"y":0.25},{"exp":2,"series":"Break Two","x":-0.22,"y":0.45},{"exp":2,"series":"Break Two","x":-0.3,"y":0.7},{"exp":2,"series":"Break Two","x":-0.18,"y":0.6},{"exp":2,"series":"Break Two","x":-0.15,"y":-0.3},{"exp":2,"series":"Break Two","x":-0.1,"y":-0.5},{"exp":2,"series":"Break Two","x":0.05,"y":-0.8},{"exp":2,"series":"Break Two","x":0.15,"y":-0.75},{"exp":2,"series":"Break Two","x":-0.5,"y":-0.85},{"exp":2,"series":"Break Two","x":-0.55,"y":-0.8},{"exp":2,"series":"Break Two","x":-0.65,"y":-0.88},{"exp":2,"series":"Break Two","x":-0.75,"y":-0.84},{"exp":2,"series":"Break Two","x":-0.8,"y":-0.9},{"exp":2,"series":"Break Two","x":-1.1,"y":-0.82},{"exp":2,"series":"Break Two","x":-1.3,"y":-0.78},{"exp":2,"series":"Break Two","x":0.25,"y":-0.82},{"exp":2,"series":"Break Two","x":0.3,"y":-0.9},{"exp":2,"series":"Break Two","x":0.6,"y":-0.82},{"exp":2,"series":"Break Two","x":0.9,"y":-0.84},
{"exp":3,"series":"Break One","x":0.4,"y":2.93},{"exp":3,"series":"Break One","x":1.0,"y":2.81},{"exp":3,"series":"Break One","x":0.32,"y":2.43},{"exp":3,"series":"Break One","x":-0.03,"y":2.24},{"exp":3,"series":"Break One","x":0.96,"y":2.44},{"exp":3,"series":"Break One","x":1.0,"y":2.32},{"exp":3,"series":"Break One","x":1.32,"y":2.34},{"exp":3,"series":"Break One","x":1.41,"y":2.23},{"exp":3,"series":"Break One","x":1.16,"y":2.22},{"exp":3,"series":"Break One","x":1.05,"y":2.09},{"exp":3,"series":"Break One","x":1.12,"y":1.97},{"exp":3,"series":"Break One","x":1.25,"y":1.97},{"exp":3,"series":"Break One","x":0.54,"y":2.1},{"exp":3,"series":"Break One","x":0.14,"y":1.82},{"exp":3,"series":"Break One","x":0.2,"y":1.72},{"exp":3,"series":"Break One","x":-0.06,"y":1.34},{"exp":3,"series":"Break One","x":0.02,"y":0.99},{"exp":3,"series":"Break One","x":0.67,"y":1.82},{"exp":3,"series":"Break One","x":0.75,"y":1.73},{"exp":3,"series":"Break One","x":0.74,"y":1.55},{"exp":3,"series":"Break One","x":0.66,"y":1.34},{"exp":3,"series":"Break One","x":0.57,"y":1.41},{"exp":3,"series":"Break One","x":0.86,"y":1.34},{"exp":3,"series":"Break One","x":0.98,"y":1.38},{"exp":3,"series":"Break One","x":1.05,"y":1.17},{"exp":3,"series":"Break One","x":1.19,"y":1.38},{"exp":3,"series":"Break One","x":1.26,"y":1.17},{"exp":3,"series":"Break One","x":1.44,"y":1.34},{"exp":3,"series":"Break One","x":1.62,"y":1.25},{"exp":3,"series":"Break One","x":1.71,"y":1.11},{"exp":3,"series":"Break One","x":1.45,"y":0.92},{"exp":3,"series":"Break One","x":1.45,"y":0.48},{"exp":3,"series":"Break One","x":1.6,"y":0.94},{"exp":3,"series":"Break One","x":2.04,"y":0.36},{"exp":3,"series":"Break One","x":2.2,"y":1.46},{"exp":3,"series":"Break One","x":2.3,"y":2.2},{"exp":3,"series":"Break One","x":2.6,"y":2.89},{"exp":3,"series":"Break One","x":3.06,"y":2.31},{"exp":3,"series":"Break One","x":2.57,"y":1.44},{"exp":3,"series":"Break One","x":2.42,"y":1.16},{"exp":3,"series":"Break One","x":1.97,"y":1.41},{"exp":3,"series":"Break One","x":2.82,"y":0.89},{"exp":3,"series":"Break One","x":4.51,"y":1.14},{"exp":3,"series":"Break One","x":0.27,"y":1.48},{"exp":3,"series":"Break One","x":0.32,"y":1.34},{"exp":3,"series":"Break One","x":0.24,"y":1.17},{"exp":3,"series":"Break One","x":0.36,"y":1.17},{"exp":3,"series":"Break One","x":0.38,"y":1.0},{"exp":3,"series":"Break One","x":0.25,"y":0.75},{"exp":3,"series":"Break One","x":0.06,"y":0.71},{"exp":3,"series":"Break One","x":0.16,"y":0.29},{"exp":3,"series":"Break One","x":0.34,"y":0.18},{"exp":3,"series":"Break One","x":0.39,"y":0.25},{"exp":3,"series":"Break One","x":0.59,"y":0.17},{"exp":3,"series":"Break One","x":0.62,"y":0.5},{"exp":3,"series":"Break One","x":0.66,"y":0.84},{"exp":3,"series":"Break One","x":0.73,"y":0.42},{"exp":3,"series":"Break One","x":0.73,"y":-0.07},{"exp":3,"series":"Break One","x":0.76,"y":-0.17},{"exp":3,"series":"Break One","x":0.69,"y":-0.34},{"exp":3,"series":"Break One","x":0.8,"y":0.12},{"exp":3,"series":"Break One","x":0.91,"y":0.29},{"exp":3,"series":"Break One","x":0.94,"y":0.42},{"exp":3,"series":"Break One","x":0.83,"y":0.92},{"exp":3,"series":"Break One","x":0.91,"y":1.0},{"exp":3,"series":"Break One","x":0.99,"y":0.84},{"exp":3,"series":"Break One","x":-0.12,"y":0.07},{"exp":3,"series":"Break One","x":-0.08,"y":-0.38},{"exp":3,"series":"Break One","x":-0.31,"y":0.06},{"exp":3,"series":"Break One","x":-0.26,"y":-0.17},{"exp":3,"series":"Break One","x":-0.22,"y":-0.25},{"exp":3,"series":"Break One","x":-0.32,"y":-0.04},
{"exp":3,"series":"Break Two","x":1.89,"y":3.34},{"exp":3,"series":"Break Two","x":4.95,"y":1.91},{"exp":3,"series":"Break Two","x":4.05,"y":1.47},{"exp":3,"series":"Break Two","x":3.22,"y":2.59},{"exp":3,"series":"Break Two","x":2.59,"y":1.94},{"exp":3,"series":"Break Two","x":2.45,"y":1.94},{"exp":3,"series":"Break Two","x":2.22,"y":1.9},{"exp":3,"series":"Break Two","x":1.94,"y":1.59},{"exp":3,"series":"Break Two","x":1.8,"y":1.45},{"exp":3,"series":"Break Two","x":1.73,"y":1.95},{"exp":3,"series":"Break Two","x":1.79,"y":2.19},{"exp":3,"series":"Break Two","x":2.11,"y":1.33},{"exp":3,"series":"Break Two","x":2.08,"y":1.08},{"exp":3,"series":"Break Two","x":1.97,"y":0.76},{"exp":3,"series":"Break Two","x":2.82,"y":0.77},{"exp":3,"series":"Break Two","x":2.88,"y":0.44},{"exp":3,"series":"Break Two","x":1.68,"y":0.89},{"exp":3,"series":"Break Two","x":1.53,"y":0.66},{"exp":3,"series":"Break Two","x":1.59,"y":0.34},{"exp":3,"series":"Break Two","x":1.52,"y":2.32},{"exp":3,"series":"Break Two","x":1.32,"y":2.55},{"exp":3,"series":"Break Two","x":1.15,"y":2.31},{"exp":3,"series":"Break Two","x":1.02,"y":2.31},{"exp":3,"series":"Break Two","x":0.76,"y":2.39},{"exp":3,"series":"Break Two","x":0.84,"y":2.28},{"exp":3,"series":"Break Two","x":0.5,"y":2.75},{"exp":3,"series":"Break Two","x":0.28,"y":2.57},{"exp":3,"series":"Break Two","x":0.53,"y":1.63},{"exp":3,"series":"Break Two","x":0.34,"y":1.49},{"exp":3,"series":"Break Two","x":0.03,"y":1.62},{"exp":3,"series":"Break Two","x":-0.11,"y":0.82},{"exp":3,"series":"Break Two","x":-0.29,"y":0.46},{"exp":3,"series":"Break Two","x":-0.06,"y":0.64},{"exp":3,"series":"Break Two","x":0.04,"y":0.68},{"exp":3,"series":"Break Two","x":-0.01,"y":0.17},{"exp":3,"series":"Break Two","x":-0.15,"y":0.1},{"exp":3,"series":"Break Two","x":0.04,"y":0.36},{"exp":3,"series":"Break Two","x":-0.33,"y":-0.09},{"exp":3,"series":"Break Two","x":-0.27,"y":-0.45},{"exp":3,"series":"Break Two","x":-0.03,"y":-0.4},{"exp":3,"series":"Break Two","x":-0.08,"y":-0.27},{"exp":3,"series":"Break Two","x":0.27,"y":-0.17},{"exp":3,"series":"Break Two","x":0.3,"y":-0.04},{"exp":3,"series":"Break Two","x":0.25,"y":0.67},{"exp":3,"series":"Break Two","x":0.34,"y":0.75},{"exp":3,"series":"Break Two","x":0.27,"y":0.84},{"exp":3,"series":"Break Two","x":0.41,"y":0.5},{"exp":3,"series":"Break Two","x":0.48,"y":0.63},{"exp":3,"series":"Break Two","x":0.59,"y":0.67},{"exp":3,"series":"Break Two","x":0.69,"y":0.33},{"exp":3,"series":"Break Two","x":0.69,"y":-0.25},{"exp":3,"series":"Break Two","x":0.73,"y":-0.38},{"exp":3,"series":"Break Two","x":0.62,"y":0.33},{"exp":3,"series":"Break Two","x":0.46,"y":0.29},{"exp":3,"series":"Break Two","x":0.34,"y":0.33},{"exp":3,"series":"Break Two","x":0.31,"y":0.42},{"exp":3,"series":"Break Two","x":0.38,"y":0.17},{"exp":3,"series":"Break Two","x":0.59,"y":1.05},{"exp":3,"series":"Break Two","x":0.69,"y":1.25},{"exp":3,"series":"Break Two","x":0.73,"y":1.09},{"exp":3,"series":"Break Two","x":0.76,"y":1.0},{"exp":3,"series":"Break Two","x":0.83,"y":1.13},{"exp":3,"series":"Break Two","x":0.87,"y":1.34},{"exp":3,"series":"Break Two","x":0.91,"y":1.51},{"exp":3,"series":"Break Two","x":0.94,"y":1.63},{"exp":3,"series":"Break Two","x":0.98,"y":1.76},{"exp":3,"series":"Break Two","x":1.05,"y":1.88},{"exp":3,"series":"Break Two","x":1.16,"y":1.84},{"exp":3,"series":"Break Two","x":1.08,"y":2.05},{"exp":3,"series":"Break Two","x":0.98,"y":2.01},{"exp":3,"series":"Break Two","x":0.87,"y":1.8},{"exp":3,"series":"Break Two","x":0.76,"y":0.84},{"exp":3,"series":"Break Two","x":0.83,"y":0.67},{"exp":3,"series":"Break Two","x":0.91,"y":0.5},{"exp":3,"series":"Break Two","x":0.83,"y":0.33},{"exp":3,"series":"Break Two","x":0.91,"y":0.17},{"exp":3,"series":"Break Two","x":0.98,"y":0.04},{"exp":3,"series":"Break Two","x":0.87,"y":0.0},{"exp":3,"series":"Break Two","x":0.8,"y":0.04},{"exp":3,"series":"Break Two","x":1.05,"y":0.29},{"exp":3,"series":"Break Two","x":1.08,"y":0.54},{"exp":3,"series":"Break Two","x":1.12,"y":0.75},{"exp":3,"series":"Break Two","x":1.05,"y":0.84},{"exp":3,"series":"Break Two","x":1.01,"y":1.0},{"exp":3,"series":"Break Two","x":1.08,"y":1.13},{"exp":3,"series":"Break Two","x":1.19,"y":1.09},{"exp":3,"series":"Break Two","x":1.26,"y":1.11},{"exp":3,"series":"Break Two","x":1.36,"y":0.96},{"exp":3,"series":"Break Two","x":1.19,"y":1.42},{"exp":3,"series":"Break Two","x":1.33,"y":1.61},{"exp":3,"series":"Break Two","x":0.94,"y":0.75},{"exp":3,"series":"Break Two","x":0.98,"y":0.58},{"exp":3,"series":"Break Two","x":0.91,"y":0.92},{"exp":3,"series":"Break Two","x":0.98,"y":1.17},{"exp":3,"series":"Break Two","x":0.88,"y":0.33},{"exp":3,"series":"Break Two","x":0.94,"y":0.42},{"exp":3,"series":"Break Two","x":1.0,"y":0.21},{"exp":3,"series":"Break Two","x":0.83,"y":0.5},{"exp":3,"series":"Break Two","x":0.76,"y":0.63},{"exp":3,"series":"Break Two","x":0.8,"y":1.17},{"exp":3,"series":"Break Two","x":0.91,"y":1.25},{"exp":3,"series":"Break Two","x":0.76,"y":1.27},{"exp":3,"series":"Break Two","x":0.92,"y":0.6},{"exp":3,"series":"Break Two","x":0.96,"y":0.8},{"exp":3,"series":"Break Two","x":0.88,"y":1.0},{"exp":3,"series":"Break Two","x":0.95,"y":1.2},{"exp":3,"series":"Break Two","x":0.9,"y":1.4},{"exp":3,"series":"Break Two","x":1.0,"y":0.4},{"exp":3,"series":"Break Two","x":0.86,"y":0.15},{"exp":3,"series":"Break Two","x":0.94,"y":-0.05},{"exp":3,"series":"Break Two","x":1.02,"y":0.7},{"exp":3,"series":"Break Two","x":0.98,"y":0.95},{"exp":3,"series":"Break Two","x":0.9,"y":0.7},{"exp":3,"series":"Break Two","x":0.85,"y":0.85},{"exp":3,"series":"Break Two","x":-1.0,"y":-0.95},{"exp":3,"series":"Break Two","x":-1.0,"y":-0.88},{"exp":3,"series":"Break Two","x":-0.98,"y":-0.84},{"exp":3,"series":"Break Two","x":-0.95,"y":-0.82},{"exp":3,"series":"Break Two","x":-0.93,"y":-0.8},{"exp":3,"series":"Break Two","x":-0.9,"y":-0.78},{"exp":3,"series":"Break Two","x":-0.85,"y":-0.78},{"exp":3,"series":"Break Two","x":-0.8,"y":-0.8},{"exp":3,"series":"Break Two","x":-0.78,"y":-0.84},{"exp":3,"series":"Break Two","x":-0.75,"y":-0.82},{"exp":3,"series":"Break Two","x":-0.7,"y":-0.8},{"exp":3,"series":"Break Two","x":-0.68,"y":-0.83},{"exp":3,"series":"Break Two","x":-0.65,"y":-0.8},{"exp":3,"series":"Break Two","x":-0.97,"y":-0.92}
]
},
"resolve": {"scale": {"color": "independent"}, "legend": {"color": "independent"}},
"bounds": "flush",
"spacing": 34,
"hconcat": [
{
 "width": 380, "height": 324,
 "title": "Exp 1",
 "encoding": {
  "x": {"field": "x", "type": "quantitative", "scale": {"domain": [-3, 5], "nice": false, "zero": false}, "axis": {"values": [-3,-2,-1,0,1,2,3,4,5], "labelExpr": "datum.value % 2 != 0 ? (datum.value < 0 ? '-' + abs(datum.value) : '' + datum.value) : ''", "title": "Pre-Unloading EMG (z-score)", "titlePadding": 18}},
  "y": {"field": "y", "type": "quantitative", "scale": {"domain": [-3, 5.15], "nice": false, "zero": false}, "axis": {"values": [-3,-2,-1,0,1,2,3,4,5], "labelExpr": "datum.value % 2 != 0 ? (datum.value < 0 ? '-' + abs(datum.value) : '' + datum.value) : ''", "title": "Reflex EMG (z-score)", "titlePadding": 14}}
 },
 "layer": [
  {"data": {"name": "lines"}, "transform": [{"filter": "datum.exp == 1 && datum.series == 'Break One'"}], "mark": {"type": "line", "strokeWidth": 2, "color": "#ff0000", "strokeOpacity": 0.5}, "encoding": {}},
  {"data": {"name": "lines"}, "transform": [{"filter": "datum.exp == 1 && datum.series == 'Break Two'"}], "mark": {"type": "line", "strokeWidth": 2, "color": "#0000ff", "strokeOpacity": 0.5}, "encoding": {}},
  {"data": {"name": "points"}, "transform": [{"filter": "datum.exp == 1"}], "mark": {"type": "circle", "size": 24, "opacity": 1}, "encoding": {"color": {"field": "series", "type": "nominal", "scale": {"domain": ["Break One", "Break Two"], "range": ["#ff0000", "#0000ff"]}, "legend": {"title": null, "orient": "top-left", "offset": 7, "fillColor": "#ffffff", "strokeColor": "#cccccc", "cornerRadius": 3, "padding": 5, "symbolSize": 12, "symbolType": "circle", "labelFontSize": 13.5, "labelOffset": 16, "symbolOffset": 12, "rowPadding": 7.5, "labelColor": "#000000"}}}}
 ]
},
{
 "bounds": "flush",
 "spacing": 41,
 "hconcat": [
  {
   "width": 378, "height": 324,
   "title": "Exp 2",
   "encoding": {
    "x": {"field": "x", "type": "quantitative", "scale": {"domain": [-3, 5], "nice": false, "zero": false}, "axis": {"values": [-3,-2,-1,0,1,2,3,4,5], "labelExpr": "datum.value % 2 != 0 ? (datum.value < 0 ? '-' + abs(datum.value) : '' + datum.value) : ''", "title": "Pre-Unloading EMG (z-score)", "titlePadding": 18}},
    "y": {"field": "y", "type": "quantitative", "scale": {"domain": [-3, 5.15], "nice": false, "zero": false}, "axis": null}
   },
   "layer": [
    {"data": {"name": "lines"}, "transform": [{"filter": "datum.exp == 2 && datum.series == 'Break One'"}], "mark": {"type": "line", "strokeWidth": 2, "color": "#ff0000", "strokeOpacity": 0.5}, "encoding": {}},
    {"data": {"name": "lines"}, "transform": [{"filter": "datum.exp == 2 && datum.series == 'Break Two'"}], "mark": {"type": "line", "strokeWidth": 2, "color": "#0000ff", "strokeOpacity": 0.5}, "encoding": {}},
    {"data": {"name": "points"}, "transform": [{"filter": "datum.exp == 2"}], "mark": {"type": "circle", "size": 24, "opacity": 1}, "encoding": {"color": {"field": "series", "type": "nominal", "scale": {"domain": ["Break One", "Break Two"], "range": ["#ff0000", "#0000ff"]}, "legend": null}}}
   ]
  },
  {
   "width": 378, "height": 324,
   "title": "Exp 3",
   "encoding": {
    "x": {"field": "x", "type": "quantitative", "scale": {"domain": [-3, 5], "nice": false, "zero": false}, "axis": {"values": [-3,-2,-1,0,1,2,3,4,5], "labelExpr": "datum.value % 2 != 0 ? (datum.value < 0 ? '-' + abs(datum.value) : '' + datum.value) : ''", "title": "Pre-Unloading EMG (z-score)", "titlePadding": 18}},
    "y": {"field": "y", "type": "quantitative", "scale": {"domain": [-3, 5.15], "nice": false, "zero": false}, "axis": null}
   },
   "layer": [
    {"data": {"name": "lines"}, "transform": [{"filter": "datum.exp == 3 && datum.series == 'Break One'"}], "mark": {"type": "line", "strokeWidth": 2, "color": "#ff0000", "strokeOpacity": 0.5}, "encoding": {}},
    {"data": {"name": "lines"}, "transform": [{"filter": "datum.exp == 3 && datum.series == 'Break Two'"}], "mark": {"type": "line", "strokeWidth": 2, "color": "#0000ff", "strokeOpacity": 0.5}, "encoding": {}},
    {"data": {"name": "points"}, "transform": [{"filter": "datum.exp == 3"}], "mark": {"type": "circle", "size": 24, "opacity": 1}, "encoding": {"color": {"field": "series", "type": "nominal", "scale": {"domain": ["Break One", "Break Two"], "range": ["#ff0000", "#0000ff"]}, "legend": null}}}
   ]
  }
 ]
}
]
}
